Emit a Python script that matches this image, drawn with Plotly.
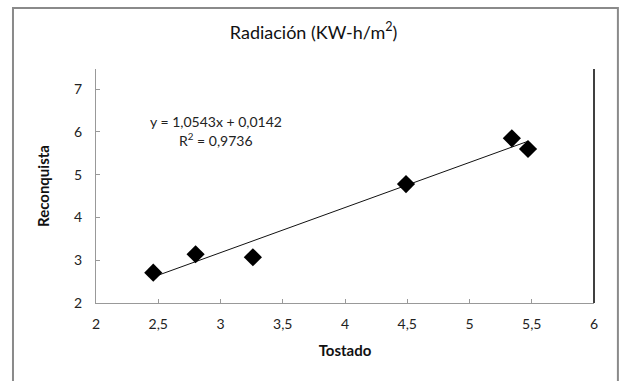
import plotly.graph_objects as go

# Radiation readings: Tostado (x) vs Reconquista (y), KW-h/m2
tostado = [2.46, 2.80, 3.26, 4.49, 5.34, 5.47]
reconquista = [2.71, 3.14, 3.07, 4.78, 5.85, 5.60]

# Linear trend line coefficients (y = m*x + b) and fit quality
slope = 1.0543
intercept = 0.0142
r_squared = 0.9736

x_ticks = [2, 2.5, 3, 3.5, 4, 4.5, 5, 5.5, 6]
x_tick_labels = ["2", "2,5", "3", "3,5", "4", "4,5", "5", "5,5", "6"]
y_ticks = [2, 3, 4, 5, 6, 7]
y_tick_labels = ["2", "3", "4", "5", "6", "7"]

font_family = "Lato, 'Open Sans', sans-serif"

x_line = [min(tostado), max(tostado)]
y_line = [slope * v + intercept for v in x_line]

def comma(v, d):
    return f"{v:.{d}f}".replace(".", ",")

fig = go.Figure()

fig.add_trace(go.Scatter(
    x=x_line, y=y_line, mode="lines",
    line=dict(color="#111111", width=1),
    hoverinfo="skip", showlegend=False,
))

fig.add_trace(go.Scatter(
    x=tostado, y=reconquista, mode="markers",
    marker=dict(symbol="diamond", size=14, color="black"),
    showlegend=False,
))

fig.add_annotation(
    x=2.96, y=6.24, xref="x", yref="y",
    text=f"y = {comma(slope, 4)}x + {comma(intercept, 4)}",
    showarrow=False, font=dict(family=font_family, size=14, color="#222222"),
)
fig.add_annotation(
    x=2.96, y=5.82, xref="x", yref="y",
    text=f"R<sup>2</sup> = {comma(r_squared, 4)}",
    showarrow=False, font=dict(family=font_family, size=14, color="#222222"),
)

# outer chart frame
fig.add_shape(type="rect", xref="paper", yref="paper",
              x0=-0.1667, x1=1.048, y0=-0.36, y1=1.2607,
              line=dict(color="#8a8a8a", width=2), layer="below")
# right edge of the plot area
fig.add_shape(type="line", xref="paper", yref="paper",
              x0=1, x1=1, y0=0, y1=1,
              line=dict(color="black", width=1.5))

fig.update_layout(
    width=621, height=381,
    margin=dict(l=96, r=27, t=69, b=78),
    paper_bgcolor="white", plot_bgcolor="white",
    title=dict(
        text="Radiación (KW-h/m<sup>2</sup>)",
        x=0.505, xref="container", xanchor="center",
        y=0.915, yref="container", yanchor="middle",
        font=dict(family=font_family, size=18, color="#111111"),
    ),
    xaxis=dict(
        range=[2, 6], tickvals=x_ticks, ticktext=x_tick_labels,
        showgrid=False, zeroline=False,
        showline=True, linecolor="#999999", linewidth=1,
        ticks="inside", ticklen=4, tickcolor="#999999",
        ticklabelstandoff=8,
        tickfont=dict(family=font_family, size=14, color="#222222"),
        title=dict(text="<b>Tostado</b>", standoff=14,
                   font=dict(family=font_family, size=15, color="#111111")),
    ),
    yaxis=dict(
        range=[2, 7.47], tickvals=y_ticks, ticktext=y_tick_labels,
        showgrid=False, zeroline=False,
        showline=True, linecolor="#999999", linewidth=1,
        ticks="inside", ticklen=4, tickcolor="#999999",
        ticklabelstandoff=10,
        tickfont=dict(family=font_family, size=14, color="#222222"),
        title=dict(text="<b>Reconquista</b>", standoff=20,
                   font=dict(family=font_family, size=15, color="#111111")),
    ),
)

fig.write_html("out.html")
